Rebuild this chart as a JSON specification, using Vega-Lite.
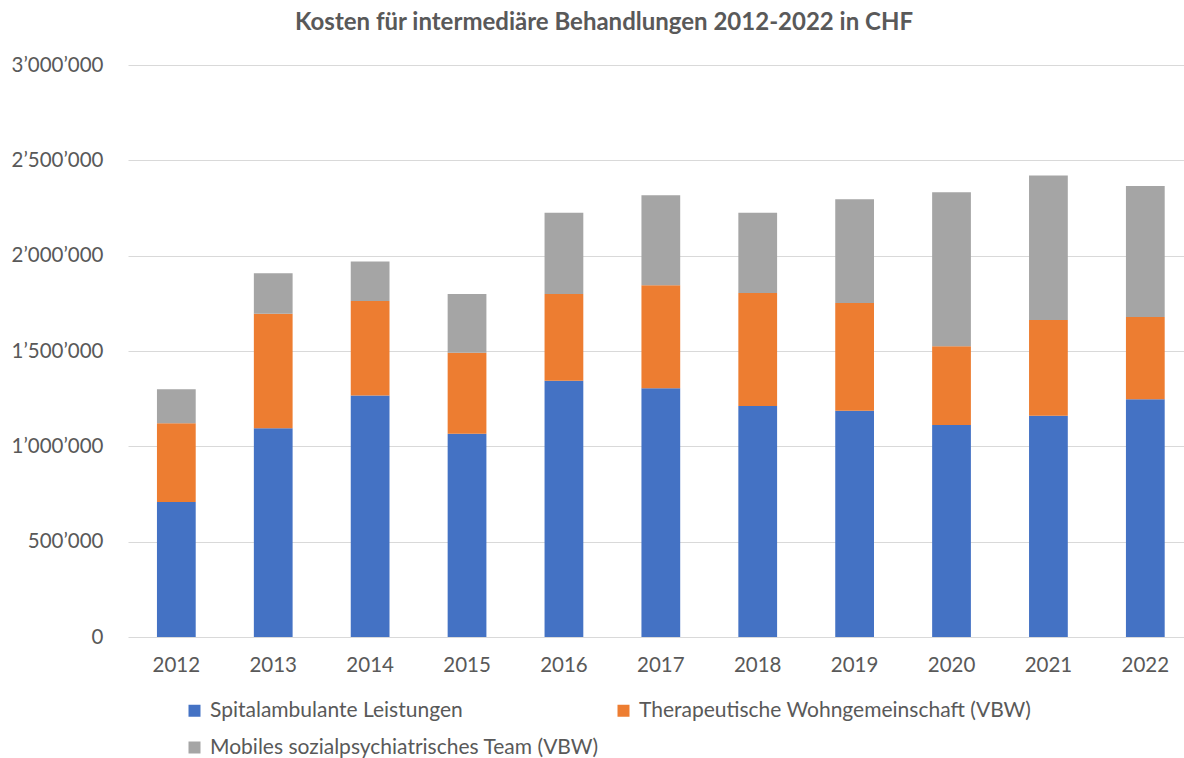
{
  "$schema": "https://vega.github.io/schema/vega-lite/v6.json",
  "width": 1056,
  "height": 572,
  "autosize": "none",
  "padding": {"left": 128, "top": 65, "right": 0, "bottom": 121},
  "background": "white",
  "config": {
    "locale": {"number": {"decimal": ".", "thousands": "’", "grouping": [3], "currency": ["", ""]}},
    "font": "Lato",
    "view": {"stroke": null},
    "axis": {"labelColor": "#595959", "labelFont": "Lato", "labelFontSize": 20.5, "gridColor": "#d9d9d9", "domain": false, "ticks": false}
  },
  "title": {"text": "Kosten für intermediäre Behandlungen 2012-2022 in CHF", "font": "Lato", "fontSize": 24, "fontWeight": "bold", "color": "#595959", "anchor": "middle", "frame": "group", "dx": -52, "offset": 20},
  "data": {"values": [
    {"year": "2012", "series": "Spitalambulante Leistungen", "value": 708000},
    {"year": "2012", "series": "Therapeutische Wohngemeinschaft (VBW)", "value": 413000},
    {"year": "2012", "series": "Mobiles sozialpsychiatrisches Team (VBW)", "value": 178000},
    {"year": "2013", "series": "Spitalambulante Leistungen", "value": 1095000},
    {"year": "2013", "series": "Therapeutische Wohngemeinschaft (VBW)", "value": 601000},
    {"year": "2013", "series": "Mobiles sozialpsychiatrisches Team (VBW)", "value": 212000},
    {"year": "2014", "series": "Spitalambulante Leistungen", "value": 1266000},
    {"year": "2014", "series": "Therapeutische Wohngemeinschaft (VBW)", "value": 496000},
    {"year": "2014", "series": "Mobiles sozialpsychiatrisches Team (VBW)", "value": 208000},
    {"year": "2015", "series": "Spitalambulante Leistungen", "value": 1066000},
    {"year": "2015", "series": "Therapeutische Wohngemeinschaft (VBW)", "value": 425000},
    {"year": "2015", "series": "Mobiles sozialpsychiatrisches Team (VBW)", "value": 308000},
    {"year": "2016", "series": "Spitalambulante Leistungen", "value": 1344000},
    {"year": "2016", "series": "Therapeutische Wohngemeinschaft (VBW)", "value": 455000},
    {"year": "2016", "series": "Mobiles sozialpsychiatrisches Team (VBW)", "value": 426000},
    {"year": "2017", "series": "Spitalambulante Leistungen", "value": 1304000},
    {"year": "2017", "series": "Therapeutische Wohngemeinschaft (VBW)", "value": 541000},
    {"year": "2017", "series": "Mobiles sozialpsychiatrisches Team (VBW)", "value": 472000},
    {"year": "2018", "series": "Spitalambulante Leistungen", "value": 1212000},
    {"year": "2018", "series": "Therapeutische Wohngemeinschaft (VBW)", "value": 592000},
    {"year": "2018", "series": "Mobiles sozialpsychiatrisches Team (VBW)", "value": 421000},
    {"year": "2019", "series": "Spitalambulante Leistungen", "value": 1187000},
    {"year": "2019", "series": "Therapeutische Wohngemeinschaft (VBW)", "value": 565000},
    {"year": "2019", "series": "Mobiles sozialpsychiatrisches Team (VBW)", "value": 544000},
    {"year": "2020", "series": "Spitalambulante Leistungen", "value": 1112000},
    {"year": "2020", "series": "Therapeutische Wohngemeinschaft (VBW)", "value": 413000},
    {"year": "2020", "series": "Mobiles sozialpsychiatrisches Team (VBW)", "value": 807000},
    {"year": "2021", "series": "Spitalambulante Leistungen", "value": 1161000},
    {"year": "2021", "series": "Therapeutische Wohngemeinschaft (VBW)", "value": 502000},
    {"year": "2021", "series": "Mobiles sozialpsychiatrisches Team (VBW)", "value": 758000},
    {"year": "2022", "series": "Spitalambulante Leistungen", "value": 1247000},
    {"year": "2022", "series": "Therapeutische Wohngemeinschaft (VBW)", "value": 431000},
    {"year": "2022", "series": "Mobiles sozialpsychiatrisches Team (VBW)", "value": 687000}
  ]},
  "transform": [
    {"calculate": "indexof(['Spitalambulante Leistungen', 'Therapeutische Wohngemeinschaft (VBW)', 'Mobiles sozialpsychiatrisches Team (VBW)'], datum.series)", "as": "stackOrder"}
  ],
  "mark": {"type": "bar"},
  "encoding": {
    "x": {"field": "year", "type": "nominal", "title": null,
      "scale": {"paddingInner": 0.6, "paddingOuter": 0.249, "align": 0.6},
      "axis": {"labelAngle": 0, "grid": false, "labelPadding": 18}},
    "y": {"field": "value", "type": "quantitative", "stack": "zero", "title": null,
      "scale": {"domain": [0, 3000000], "nice": false},
      "axis": {"values": [0, 500000, 1000000, 1500000, 2000000, 2500000, 3000000], "format": ",d", "labelPadding": 25}},
    "order": {"field": "stackOrder", "type": "quantitative", "sort": "ascending"},
    "color": {"field": "series", "type": "nominal",
      "sort": ["Spitalambulante Leistungen", "Therapeutische Wohngemeinschaft (VBW)", "Mobiles sozialpsychiatrisches Team (VBW)"],
      "scale": {"domain": ["Spitalambulante Leistungen", "Therapeutische Wohngemeinschaft (VBW)", "Mobiles sozialpsychiatrisches Team (VBW)"], "range": ["#4472C4", "#ED7D31", "#A5A5A5"]},
      "legend": {"title": null, "orient": "none", "legendX": 56, "legendY": 635, "columns": 2, "direction": "horizontal", "symbolType": "square", "symbolSize": 144, "symbolStrokeWidth": 0, "labelFontSize": 21, "labelColor": "#595959", "labelFont": "Lato", "labelLimit": 500, "labelOffset": 5, "rowPadding": 15, "columnPadding": 14}}
  }
}
